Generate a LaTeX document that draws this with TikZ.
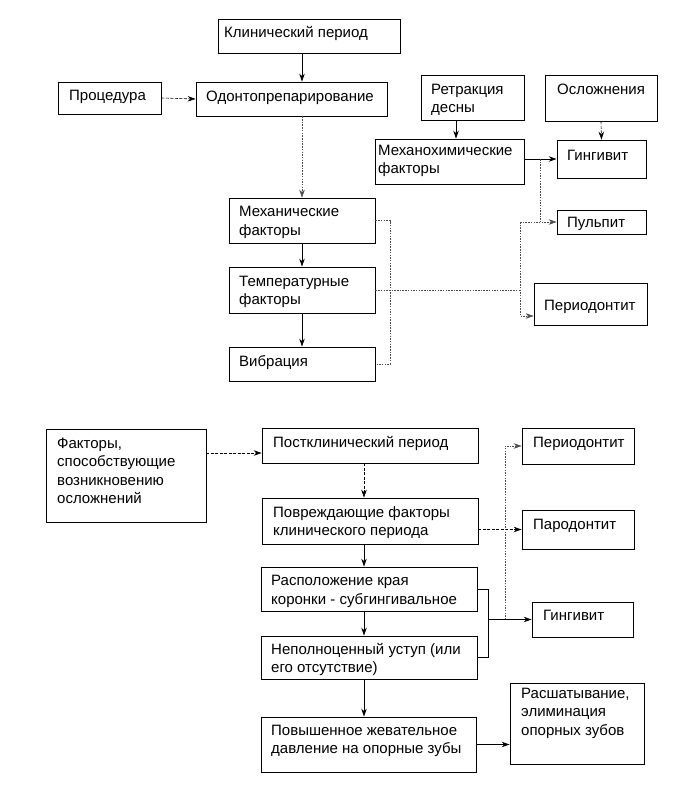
\documentclass[tikz,border=0pt]{standalone}
\usepackage{fontspec}
\setmainfont{Liberation Sans}
\usetikzlibrary{arrows.meta}
\tikzset{
  box/.style={draw, line width=0.8pt, rectangle, inner sep=0pt},
  txt/.style={inner sep=0pt, align=left, font=\fontsize{15}{18.3}\selectfont},
  solidarr/.style={line width=0.8pt, -{Stealth[length=8pt,width=5.5pt]}},
  dasharr/.style={line width=0.6pt, dash pattern=on 3pt off 1.5pt, -{Stealth[length=8pt,width=5.5pt]}},
  dotarr/.style={line width=0.5pt, black!70, dash pattern=on 1.5pt off 1.2pt, -{Stealth[length=8pt,width=5.5pt]}},
  dotline/.style={line width=0.5pt, black!70, dash pattern=on 1.5pt off 1.2pt},
  thinline/.style={line width=0.7pt}
}
% name, x1, y1, x2, y2, dx, dy (first baseline), text
\newcommand\bx[8]{%
  \node[box, minimum width={(#4-#2)*1pt}, minimum height={(#5-#3)*1pt}] (#1) at ({(#2+#4)/2},{(#3+#5)/2}) {};
  \node[txt, anchor=north west] (#1t) at ({#2+#6},{#3+#7-14}) {\rule{0pt}{14pt}#8};}
\begin{document}
\begin{tikzpicture}[x=1pt,y=-1pt]
\useasboundingbox (0,0) rectangle (673,789);
% top section
\bx{klin}{218}{19}{400}{53}{6}{18.5}{Клинический период}
\bx{proc}{58}{82}{161}{114}{11}{18.7}{Процедура}
\bx{odont}{196}{82}{387}{116}{10}{19.7}{Одонтопрепарирование}
\bx{retr}{421}{75}{524}{120}{10}{19.3}{Ретракция\\десны}
\bx{osl}{545}{75}{657}{121}{12}{19.3}{Осложнения}
\bx{mch}{375}{139}{524}{184}{3}{16}{Механохимические\\факторы}
\bx{ging}{557}{140}{646}{178}{10}{20.7}{Гингивит}
\bx{pulp}{557}{210}{646}{234}{10}{17.7}{Пульпит}
\bx{mech}{229}{198}{375}{243}{10}{18.7}{Механические\\факторы}
\bx{temp}{229}{267}{375}{313}{10}{19}{Температурные\\факторы}
\bx{vib}{229}{347}{375}{381}{10}{19.7}{Вибрация}
\bx{perio}{534}{283}{647}{325}{10}{27}{Периодонтит}
% bottom section
\bx{fact}{46}{429}{206}{522}{11}{19.3}{Факторы,\\способствующие\\возникновению\\осложнений}
\bx{post}{262}{428}{478}{463}{11}{19.3}{Постклинический период}
\bx{periob}{522}{428}{634}{464}{11}{19.3}{Периодонтит}
\bx{povr}{262}{498}{478}{544}{11}{19.3}{Повреждающие факторы\\клинического периода}
\bx{parod}{522}{510}{634}{549}{11}{19}{Пародонтит}
\bx{rasp}{261}{567}{477}{611}{10}{18.7}{Расположение края\\коронки - субгингивальное}
\bx{gingb}{532}{602}{633}{637}{11}{18.7}{Гингивит}
\bx{nepol}{261}{636}{477}{679}{10}{18.3}{Неполноценный уступ (или\\его отсутствие)}
\bx{pov}{261}{717}{476}{772}{10}{18}{Повышенное жевательное\\давление на опорные зубы}
\bx{rassh}{510}{683}{644}{764}{11}{15.3}{Расшатывание,\\элиминация\\опорных зубов}
% helper columns
\coordinate (xr) at (456,0);
\coordinate (xb) at (390,0);
\coordinate (xj) at (520,0);
\coordinate (xk) at (540,0);
\coordinate (xc) at (364,0);
\coordinate (xd) at (505,0);
\coordinate (xe) at (488,0);
\coordinate (pa) at ([yshift=-12pt]perio.west);
\coordinate (pw) at ([yshift=-7.5pt]post.west);
% top connectors
\draw[solidarr] (klin.south -| mech.north) -- (odont.north -| mech.north);
\draw[dasharr] (proc.east) -- (odont.west);
\draw[dotarr] (odont.south -| mech.north) -- (mech.north);
\draw[solidarr] (mech.south) -- (temp.north);
\draw[solidarr] (temp.south) -- (vib.north);
\draw[dotline] (mech.east) -- (mech.east -| xb) -- (vib.east -| xb) -- (vib.east);
\draw[dotline] (temp.east) -- (temp.east -| xj);
\draw[dotarr] (xj |- pulp.west) -- (pulp.west);
\draw[dotarr] (xj |- pulp.west) -- (xj |- pa) -- (pa);
\draw[solidarr] (retr.south -| xr) -- (mch.north -| xr);
\draw[dasharr] (osl.south) -- (ging.north);
\draw[solidarr] (mch.east |- ging.west) -- (ging.west);
\draw[dotline] (xk |- ging.west) -- (xk |- pulp.west);
% bottom connectors
\draw[dasharr] (fact.east |- pw) -- (pw);
\draw[dasharr] (post.south -| xc) -- (povr.north -| xc);
\draw[solidarr] (povr.south -| xc) -- (rasp.north -| xc);
\draw[solidarr] (rasp.south -| xc) -- (nepol.north -| xc);
\draw[solidarr] (nepol.south -| xc) -- (pov.north -| xc);
\draw[dasharr] (povr.east |- parod.west) -- (parod.west);
\draw[dotarr] (xd |- gingb.west) -- (xd |- periob.west) -- (periob.west);
\draw[thinline] (rasp.east) -- (rasp.east -| xe) -- (nepol.east -| xe) -- (nepol.east);
\draw[solidarr] (xe |- gingb.west) -- (gingb.west);
\draw[solidarr] (pov.east) -- (rassh.west |- pov.east);
\end{tikzpicture}
\end{document}
